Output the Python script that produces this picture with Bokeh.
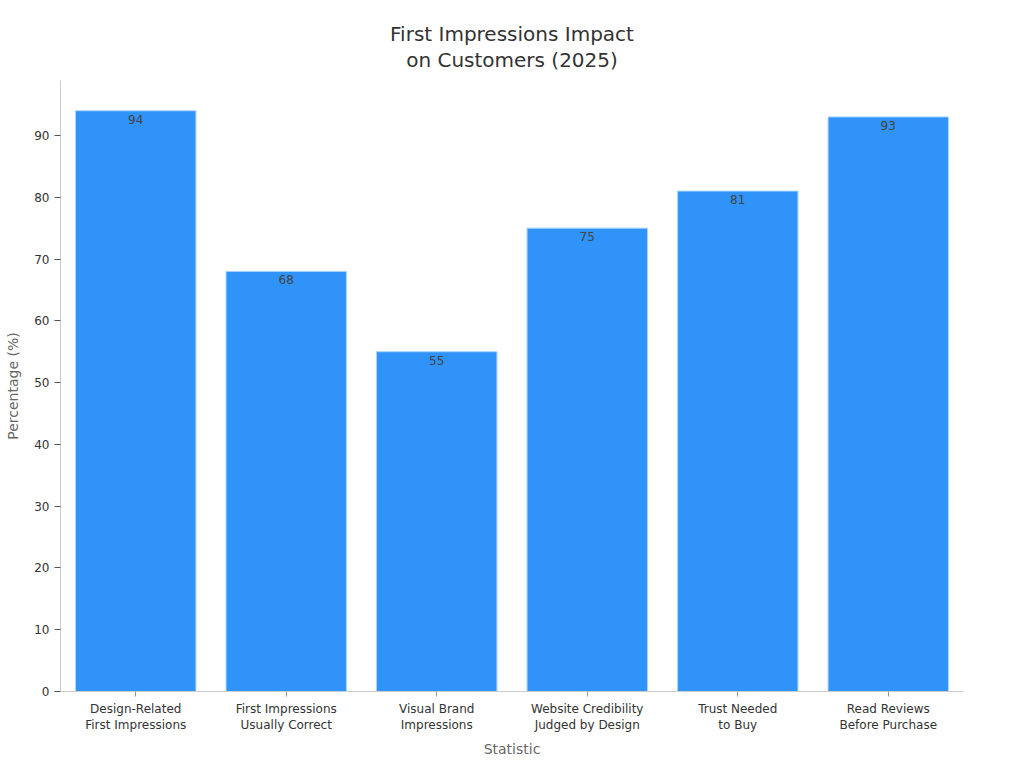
from bokeh.plotting import figure
from bokeh.models import ColumnDataSource, Range1d, LabelSet, Title
from bokeh.core.properties import value
from bokeh.embed import file_html
from bokeh.resources import INLINE

categories = ["Design-Related\nFirst Impressions", "First Impressions\nUsually Correct",
              "Visual Brand\nImpressions", "Website Credibility\nJudged by Design",
              "Trust Needed\nto Buy", "Read Reviews\nBefore Purchase"]
values = [94, 68, 55, 75, 81, 93]
labels = [str(v) for v in values]
title_lines = ["First Impressions Impact", "on Customers (2025)"]

src = ColumnDataSource(dict(cat=categories, val=values, lab=labels))

p = figure(x_range=categories, y_range=Range1d(0, 98.9), width=1000, height=760,
           output_backend="svg", toolbar_location=None,
           min_border_left=60, min_border_right=37, min_border_top=80, min_border_bottom=61)

# spacer between title and plot area
p.add_layout(Title(text=" ", text_font_size="7px", standoff=0), "above")
for line in reversed(title_lines):
    p.add_layout(Title(text=line, align="center", text_font="DejaVu Sans",
                       text_font_size="20px", text_font_style="normal",
                       text_color="#333333", standoff=0), "above")

p.vbar(x="cat", top="val", width=0.8, source=src, fill_color="#2f93f9",
       line_color="#a8d3ff", line_width=1)

p.add_layout(LabelSet(x="cat", y="val", text="lab", source=src, text_align="center",
                      text_baseline="top", y_offset=-4, text_font_size="12px",
                      text_font=value("DejaVu Sans"), text_color="#444444"))

p.xgrid.visible = False
p.ygrid.visible = False
p.outline_line_color = None

for ax in (p.xaxis, p.yaxis):
    ax.axis_line_color = "#cccccc"
    ax.major_label_text_font = "DejaVu Sans"
    ax.major_label_text_font_size = "12px"
    ax.major_label_text_color = "#333333"
    ax.axis_label_text_font = "DejaVu Sans"
    ax.axis_label_text_font_size = "14px"
    ax.axis_label_text_font_style = "normal"
    ax.axis_label_text_color = "#666666"
    ax.minor_tick_line_color = None

p.xaxis.axis_label = "Statistic"
p.yaxis.axis_label = "Percentage (%)"
p.yaxis.axis_label_standoff = 10
p.xaxis.axis_label_standoff = 6
p.xaxis.major_tick_line_color = "#999999"
p.xaxis.major_tick_in = 0
p.xaxis.major_tick_out = 5
p.yaxis.major_tick_line_color = "#555555"
p.yaxis.major_tick_in = 0
p.yaxis.major_tick_out = 6
p.yaxis.ticker = list(range(0, 100, 10))

open("out.html", "w").write(file_html(p, INLINE))
